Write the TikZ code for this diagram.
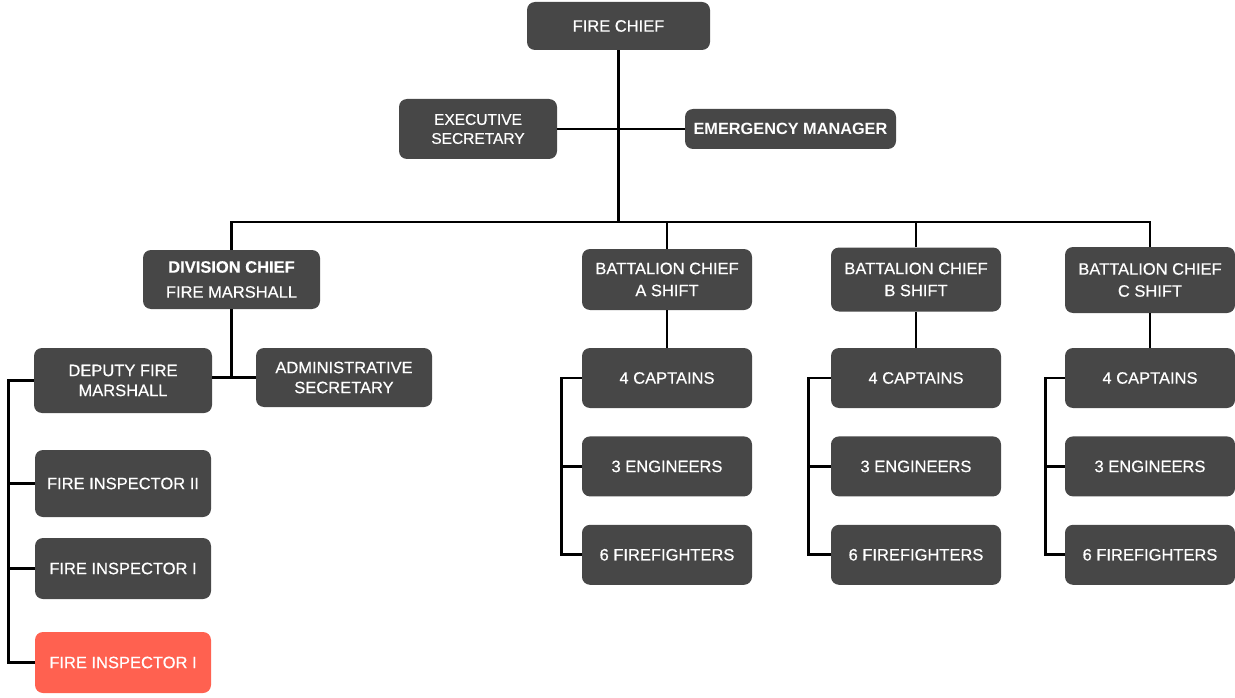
\documentclass[tikz,border=0pt]{standalone}
\usepackage{fontspec}
\setmainfont{Liberation Sans}
\newfontfamily\boxfont{Liberation Sans}[FakeBold=0.5]
\usepackage{xcolor}
\usepackage{tikz}
\usetikzlibrary{positioning, calc}

\definecolor{boxgray}{RGB}{71,71,71}
\definecolor{alertred}{RGB}{255,97,80}

\begin{document}
\begin{tikzpicture}[
    x=1pt, y=-1pt,
    node distance=28pt,
    post/.style={rectangle, rounded corners=8pt, fill=boxgray, text=white, align=center, inner sep=0pt,
        font=\boxfont\fontsize{16.5}{20}\selectfont, minimum width=170pt, minimum height=60pt},
    link/.style={line width=2.8pt, black},
]
\useasboundingbox (0,0) rectangle (1235,698);

% Top
\node (chief) [post, minimum width=183pt, minimum height=48pt] at (618.5,26) {FIRE CHIEF};
\node (exec) [post, minimum width=158pt, font=\boxfont\fontsize{15.5}{20}\selectfont] at (478,129) {EXECUTIVE\\[-1pt]SECRETARY};
\node (emerg) [post, minimum width=211pt, minimum height=40pt, font=\fontsize{16.3}{20}\selectfont\bfseries] at (790.5,129) {EMERGENCY MANAGER};

% Chiefs
\node (div) [post, minimum width=177pt, minimum height=59pt] at (231.5,279.5) {\textbf{DIVISION CHIEF}\\[5pt]FIRE MARSHALL};
\node (bcA) [post, minimum height=61pt] at (667,279.5) {BATTALION CHIEF\\[2pt]A SHIFT};
\node (bcB) [post, minimum height=64pt] at (916,279.5) {BATTALION CHIEF\\[2pt]B SHIFT};
\node (bcC) [post, minimum height=66pt] at (1150,280) {BATTALION CHIEF\\[2pt]C SHIFT};

% Fire marshall side
\node (dep) [post, minimum width=178pt, minimum height=65pt] at (123,380.5) {DEPUTY FIRE\\MARSHALL};
\node (admin) [post, minimum width=176pt, minimum height=59pt] at (344,377.5) {ADMINISTRATIVE\\SECRETARY};
\node (insp2) [post, minimum width=176pt, minimum height=67pt] at (123,483.5) {FIRE INSPECTOR II};
\node (insp1) [post, minimum width=176pt, minimum height=61pt] at (123,568.5) {FIRE INSPECTOR I};
\node (insp1b) [post, fill=alertred, minimum width=176pt, minimum height=61pt] at (123,662.5) {FIRE INSPECTOR I};

% Shifts
\node (capA) [post] at (667,378) {4 CAPTAINS};
\node (engA) [post, below=of capA] {3 ENGINEERS};
\node (ffA) [post, below=of engA] {6 FIREFIGHTERS};
\node (capB) [post] at (916,378) {4 CAPTAINS};
\node (engB) [post, below=of capB] {3 ENGINEERS};
\node (ffB) [post, below=of engB] {6 FIREFIGHTERS};
\node (capC) [post] at (1150,378) {4 CAPTAINS};
\node (engC) [post, below=of capC] {3 ENGINEERS};
\node (ffC) [post, below=of engC] {6 FIREFIGHTERS};

% Lines
\coordinate (bus) at (618.5,222);
\draw [link] (chief) -- (bus);
\draw [link] (exec) -- (emerg);
\draw [link] (div.north) |- (bus) -| (bcC.north);
\draw [link] (bcA.north) -- (bcA.north |- bus);
\draw [link] (bcB.north) -- (bcB.north |- bus);

\coordinate (split) at (div.south |- admin.west);
\draw [link] (div) -- (split);
\draw [link] (dep.east |- split) -- (admin.west);
\coordinate (rail) at ($(dep.west)+(-25,0)$);
\draw [link] (dep.west) -- (rail) |- (insp1b.west);
\draw [link] (rail |- insp2.west) -- (insp2.west);
\draw [link] (rail |- insp1.west) -- (insp1.west);

\draw [link] (bcA) -- (capA);
\coordinate (railA) at ($(capA.west)+(-20,0)$);
\draw [link] (capA.west) -- (railA) |- (ffA.west);
\draw [link] (railA |- engA.west) -- (engA.west);
\draw [link] (bcB) -- (capB);
\coordinate (railB) at ($(capB.west)+(-22,0)$);
\draw [link] (capB.west) -- (railB) |- (ffB.west);
\draw [link] (railB |- engB.west) -- (engB.west);
\draw [link] (bcC) -- (capC);
\coordinate (railC) at ($(capC.west)+(-19,0)$);
\draw [link] (capC.west) -- (railC) |- (ffC.west);
\draw [link] (railC |- engC.west) -- (engC.west);

\end{tikzpicture}
\end{document}
